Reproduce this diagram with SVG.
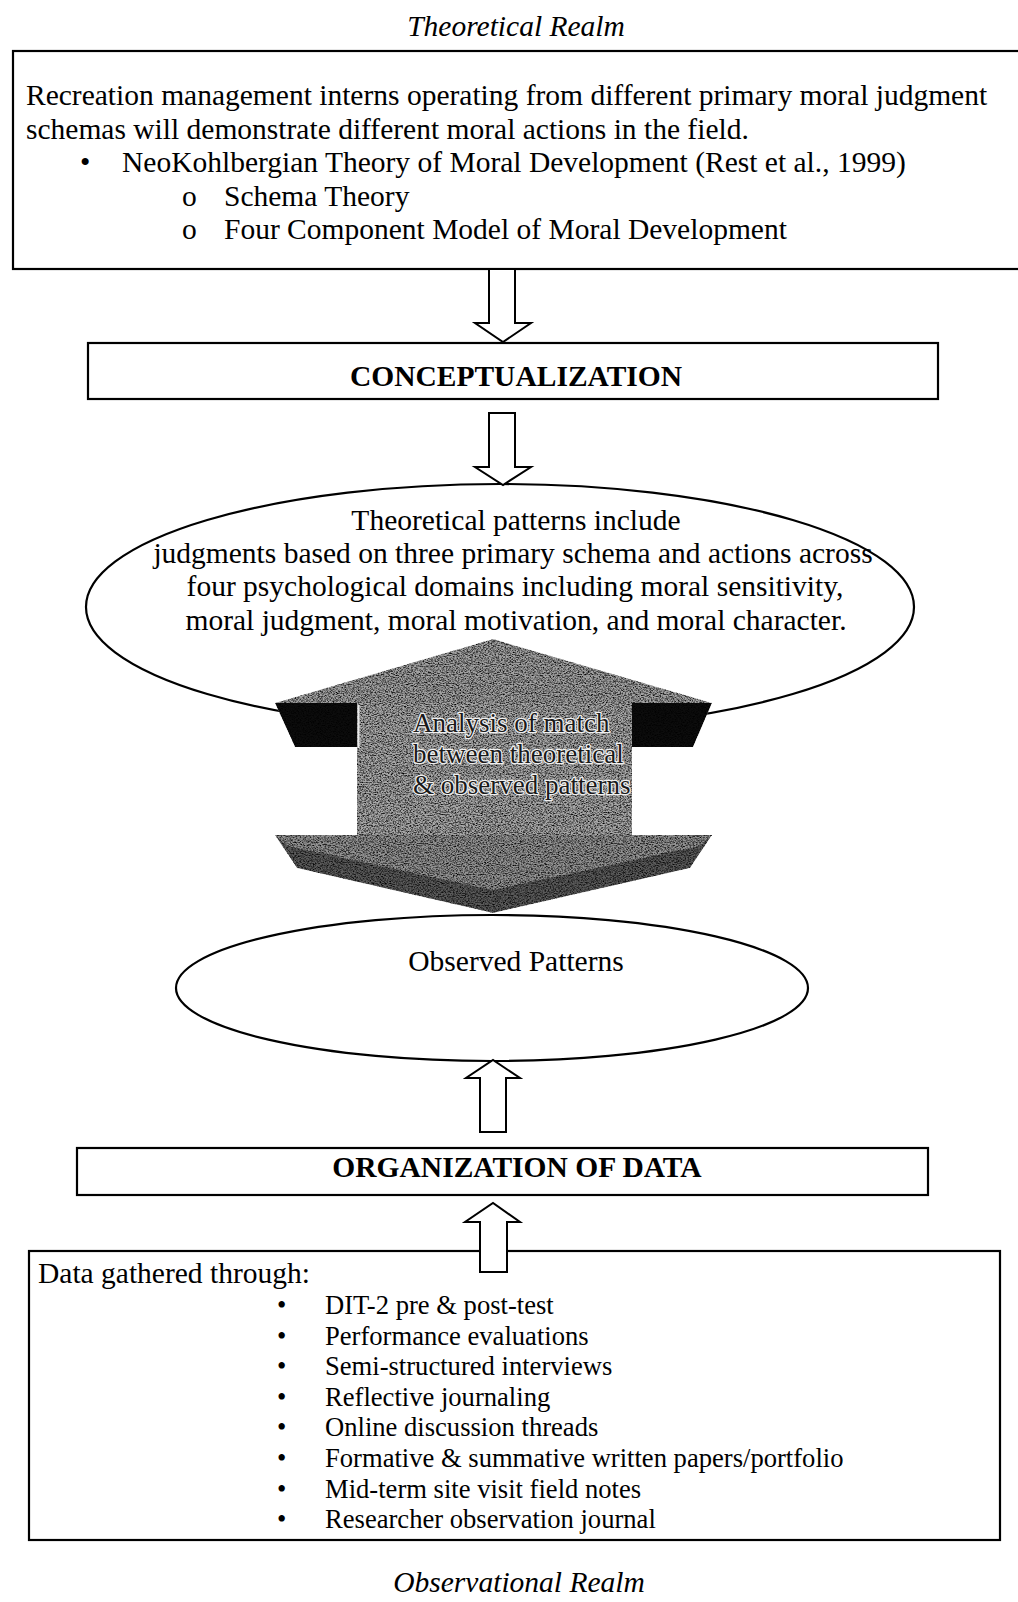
<svg xmlns="http://www.w3.org/2000/svg" width="1018" height="1602" viewBox="0 0 1018 1602">
<style>
text{font-family:"Liberation Serif","Times New Roman",serif;fill:#000}
.t{font-size:29.5px}
.s{font-size:26.6px}
.i{font-size:29.5px;font-style:italic}
.b{font-size:29.5px;font-weight:bold}
.c{text-anchor:middle}
.box{fill:#fff;stroke:#000;stroke-width:2.2}
.arr{fill:#fff;stroke:#000;stroke-width:2}
.at{font-size:27px;fill:#1a1a1a;stroke:#f0f0f0;stroke-width:2.4;paint-order:stroke;stroke-linejoin:round}
</style>
<defs>
<filter id="grain" filterUnits="userSpaceOnUse" x="260" y="630" width="470" height="290" color-interpolation-filters="sRGB">
<feTurbulence type="fractalNoise" baseFrequency="0.6 0.9" numOctaves="3" seed="7" result="t"/>
<feColorMatrix in="t" type="matrix" values="1 0 0 0 0 1 0 0 0 0 1 0 0 0 0 0 0 0 0 1" result="g"/>
<feComponentTransfer in="g" result="g2">
<feFuncR type="linear" slope="2.2" intercept="-0.35"/>
<feFuncG type="linear" slope="2.2" intercept="-0.35"/>
<feFuncB type="linear" slope="2.2" intercept="-0.35"/>
</feComponentTransfer>
<feBlend in="SourceGraphic" in2="g2" mode="multiply" result="m"/>
<feComposite in="m" in2="SourceGraphic" operator="in"/>
</filter>
</defs>

<text class="i c" x="516" y="36">Theoretical Realm</text>

<g id="theory-box">
<rect class="box" x="13" y="51" width="1020" height="218"/>
<text class="t" x="26" y="105">Recreation management interns operating from different primary moral judgment</text>
<text class="t" x="26" y="138.5">schemas will demonstrate different moral actions in the field.</text>
<text class="t" x="80" y="172">•</text>
<text class="t" x="122" y="172">NeoKohlbergian Theory of Moral Development (Rest et al., 1999)</text>
<text class="t" x="182" y="205.5">o</text>
<text class="t" x="224" y="205.5">Schema Theory</text>
<text class="t" x="182" y="239">o</text>
<text class="t" x="224" y="239">Four Component Model of Moral Development</text>
</g>

<g id="conceptualization">
<rect class="box" x="88" y="343" width="850" height="56"/>
<text class="b c" x="516" y="386">CONCEPTUALIZATION</text>
</g>

<g id="theoretical-patterns">
<ellipse class="box" cx="500" cy="607" rx="414" ry="123"/>
<text class="t c" x="516" y="530">Theoretical patterns include</text>
<text class="t c" x="513" y="563">judgments based on three primary schema and actions across</text>
<text class="t c" x="515" y="596">four psychological domains including moral sensitivity,</text>
<text class="t c" x="516" y="630">moral judgment, moral motivation, and moral character.</text>
</g>

<g id="analysis-arrow">
<g filter="url(#grain)">
<polygon points="493,639 712,703 275,703" fill="#a2a2a2"/>
<polygon points="275,703 357,703 357,747 295,747" fill="#0c0c0c"/>
<polygon points="632,703 712,703 693,747 632,747" fill="#0c0c0c"/>
<rect x="357" y="703" width="275" height="133" fill="#a8a8a8"/>
<polygon points="275,835 712,835 690,868 493,913 297,868" fill="#5a5a5a"/>
<polygon points="275,835 712,835 700,846 493,890 287,846" fill="#939393"/>
</g>
<line x1="358.5" y1="705" x2="358.5" y2="748" stroke="#e8e8e8" stroke-width="2"/>
<text class="at" x="413" y="732">Analysis of match</text>
<text class="at" x="413" y="763">between theoretical</text>
<text class="at" x="413" y="794">&amp; observed patterns</text>
</g>

<g id="observed-patterns">
<ellipse class="box" cx="492" cy="988" rx="316" ry="73"/>
<text class="t c" x="516" y="971">Observed Patterns</text>
</g>

<g id="organization">
<rect class="box" x="77" y="1148" width="851" height="47"/>
<text class="b c" x="517" y="1177">ORGANIZATION OF DATA</text>
</g>

<g id="data-box">
<rect class="box" x="29" y="1251" width="971" height="289"/>
<text class="t" x="38" y="1283">Data gathered through:</text>
<g class="s">
<text class="s" x="277" y="1314">•</text><text class="s" x="325" y="1314">DIT-2 pre &amp; post-test</text>
<text class="s" x="277" y="1345">•</text><text class="s" x="325" y="1345">Performance evaluations</text>
<text class="s" x="277" y="1375">•</text><text class="s" x="325" y="1375">Semi-structured interviews</text>
<text class="s" x="277" y="1406">•</text><text class="s" x="325" y="1406">Reflective journaling</text>
<text class="s" x="277" y="1436">•</text><text class="s" x="325" y="1436">Online discussion threads</text>
<text class="s" x="277" y="1467">•</text><text class="s" x="325" y="1467">Formative &amp; summative written papers/portfolio</text>
<text class="s" x="277" y="1498">•</text><text class="s" x="325" y="1498">Mid-term site visit field notes</text>
<text class="s" x="277" y="1528">•</text><text class="s" x="325" y="1528">Researcher observation journal</text>
</g>
</g>

<g id="connectors">
<polygon class="arr" points="489,269 515,269 515,323 531,323 503,342 475,323 489,323"/>
<polygon class="arr" points="489,413 515,413 515,467 531,467 503,485 475,467 489,467"/>
<polygon class="arr" points="480,1132 506,1132 506,1078 520,1078 493,1060 466,1078 480,1078"/>
<polygon class="arr" points="480,1272 507,1272 507,1222 520,1222 493,1203 465,1222 480,1222"/>
</g>

<text class="i c" x="519" y="1592">Observational Realm</text>
</svg>
